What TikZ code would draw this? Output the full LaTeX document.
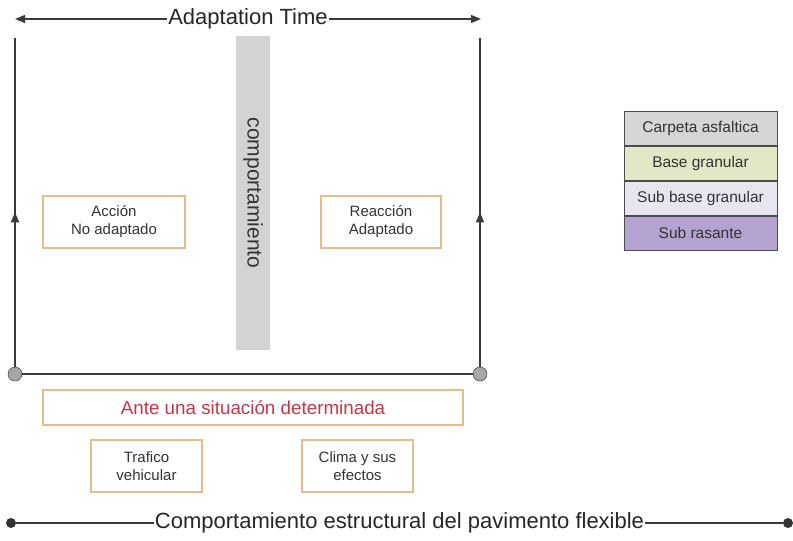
\documentclass[tikz,border=0pt]{standalone}
\usepackage{fontspec}
\setmainfont{Liberation Sans}
\usetikzlibrary{positioning, arrows.meta, decorations.markings}
\definecolor{boxline}{HTML}{E3BE8C}
\definecolor{lineclr}{HTML}{3A3A3A}
\definecolor{redtxt}{HTML}{C0394B}
\definecolor{barfill}{HTML}{D3D3D3}
\definecolor{layerA}{HTML}{D6D6D6}
\definecolor{layerB}{HTML}{E2E8C6}
\definecolor{layerC}{HTML}{E8E4F0}
\definecolor{layerD}{HTML}{B4A3D1}

\begin{document}
\begin{tikzpicture}[x = 1pt, y = -1pt,
  box/.style = {draw = boxline, line width = 1.2pt, align = center, inner sep = 0pt,
    font = \fontsize{15}{18}\selectfont, text = black!80},
  layer/.style = {draw = black!70, line width = 1pt, minimum width = 153pt, minimum height = 34pt,
    inner sep = 0pt, font = \fontsize{15.5}{18}\selectfont, text = black!80},
  joint/.style = {circle, fill = gray!70, draw = gray!30!black, minimum size = 14pt, inner sep = 0pt},
  dot/.style = {circle, fill = black!80, minimum size = 10pt, inner sep = 0pt},
  axis/.style = {draw = lineclr, line width = 1.3pt},
  tip/.style = {Triangle[length = 10pt, width = 8pt]},
  upmark/.style = {postaction = {decorate, decoration = {markings,
    mark = at position 0.47 with {\arrow{Triangle[length = 10pt, width = 8pt]}}}}}]
\useasboundingbox (0,0) rectangle (793,541);
% frame
\coordinate (TL) at (15,19);
\coordinate (TR) at (481,19);
\coordinate (ltop) at (15,38);
\coordinate (rtop) at (480,38);
\node[joint] (jl) at (15,374) {};
\node[joint] (jr) at (480,374) {};
\draw[axis, {Triangle[length = 10pt, width = 8pt]}-{Triangle[length = 10pt, width = 8pt]}] (TL) -- node[fill = white, inner sep = 1pt, font = \fontsize{22}{26}\selectfont, text = black!85] {Adaptation Time} (TR);
\draw[axis, upmark] (jl) -- (ltop);
\draw[axis, upmark] (jr) -- (rtop);
\draw[axis] (jl) -- (jr);
% bar
\node[fill = barfill, minimum width = 314pt, minimum height = 34pt, inner sep = 0pt, rotate = -90,
  font = \fontsize{21}{24}\selectfont, text = black!80] (bar) at (253,193) {comportamiento};
% boxes
\node[box, minimum width = 142pt, minimum height = 52pt] (acc) at (114,222) {Acción\\No adaptado};
\node[box, minimum width = 120pt, minimum height = 52pt] (reac) at (381,222) {Reacción\\Adaptado};
\node[box, minimum width = 420pt, minimum height = 35pt, text = redtxt, font = \fontsize{18.8}{22}\selectfont] (ante) at (253,407.5) {Ante una situación determinada};
\node[box, minimum width = 111pt, minimum height = 52pt] (traf) at (146.5,466) {Trafico\\vehicular};
\node[box, minimum width = 111pt, minimum height = 52pt] (clima) at (357.5,466) {Clima y sus\\efectos};
% bottom line
\node[dot] (dl) at (11,523) {};
\node[dot] (dr) at (788,523) {};
\draw[axis] (dl) -- node[fill = white, inner sep = 1pt, font = \fontsize{22}{26}\selectfont, text = black!85] {Comportamiento estructural del pavimento flexible} (dr);
% layers
\node[layer, fill = layerA] (capa1) at (700.5,128) {Carpeta asfaltica};
\node[layer, fill = layerB, below = 0pt of capa1] (capa2) {Base granular};
\node[layer, fill = layerC, below = 0pt of capa2] (capa3) {Sub base granular};
\node[layer, fill = layerD, below = 0pt of capa3] (capa4) {Sub rasante};
\end{tikzpicture}
\end{document}
